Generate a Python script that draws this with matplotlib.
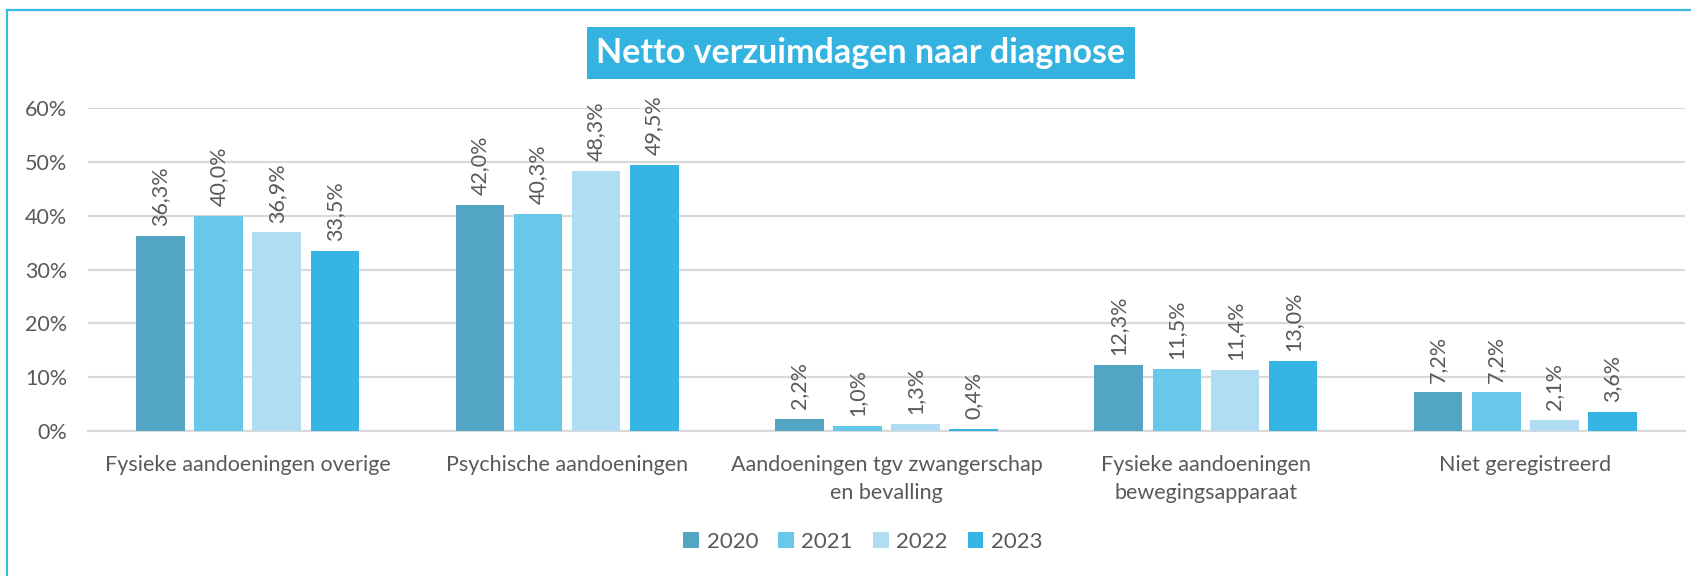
import matplotlib
matplotlib.use("Agg")
import matplotlib.pyplot as plt
from matplotlib.lines import Line2D
from matplotlib.patches import Patch
import numpy as np

plt.rcParams['font.family'] = ['Lato', 'DejaVu Sans']

categories = ["Fysieke aandoeningen overige", "Psychische aandoeningen",
              "Aandoeningen tgv zwangerschap\nen bevalling",
              "Fysieke aandoeningen\nbewegingsapparaat", "Niet geregistreerd"]
years = ["2020", "2021", "2022", "2023"]
v2020 = [36.3, 42.0, 2.2, 12.3, 7.2]
v2021 = [40.0, 40.3, 1.0, 11.5, 7.2]
v2022 = [36.9, 48.3, 1.3, 11.4, 2.1]
v2023 = [33.5, 49.5, 0.4, 13.0, 3.6]
series = [v2020, v2021, v2022, v2023]
colors = ["#53A5C4", "#67C8EA", "#B0DDF1", "#34B5E3"]

W, H = 1691, 576
fig = plt.figure(figsize=(W / 100, H / 100), dpi=100)
ax = fig.add_axes([88 / W, 1 - 431 / H, (1685 - 88) / W, (431 - 108) / H])

x = np.arange(len(categories))
bw = 0.152
step = 0.182
txt = "#595959"
fs = 15.5
for i, (vals, c) in enumerate(zip(series, colors)):
    xs = x + (i - 1.5) * step
    ax.bar(xs, vals, width=bw, color=c, zorder=3)
    for xi, v in zip(xs, vals):
        ax.annotate(f"{v:.1f}%".replace(".", ","), (xi, v), xytext=(0, 7),
                    textcoords="offset points", rotation=90, ha="center",
                    va="bottom", fontsize=fs, color=txt, annotation_clip=False)

ax.set_xlim(-0.5, len(categories) - 0.5)
ax.set_ylim(0, 60)
ax.set_yticks(np.arange(0, 61, 10))
ax.set_yticklabels([f"{t}%" for t in range(0, 61, 10)])
ax.set_xticks(x)
ax.set_xticklabels(categories, linespacing=1.55)
ax.grid(axis="y", color="#D9D9D9", linewidth=1.6, zorder=0)
for s in ["top", "right", "left"]:
    ax.spines[s].set_visible(False)
ax.spines["bottom"].set_color("#D9D9D9")
ax.spines["bottom"].set_linewidth(1.6)
ax.tick_params(axis="both", length=0, labelsize=fs, labelcolor=txt)
ax.tick_params(axis="x", pad=17)
ax.tick_params(axis="y", pad=15)

fig.text(861 / W, 1 - 53 / H, "Netto verzuimdagen naar diagnose", ha="center",
         va="center", fontsize=24.5, fontweight="bold", color="white",
         bbox=dict(boxstyle="square,pad=0.28", facecolor="#35B3E0", edgecolor="none"))

handles = [Patch(facecolor=c, edgecolor="none") for c in colors]
fig.legend(handles, years, loc="center", bbox_to_anchor=(863 / W, 1 - 542 / H),
           ncol=4, frameon=False, fontsize=16, labelcolor=txt,
           handlelength=0.7, handleheight=0.7, handletextpad=0.35, columnspacing=0.9)

bc = "#3BB9E5"
fig.add_artist(Line2D([7 / W, 7 / W], [0, 1 - 10 / H], transform=fig.transFigure,
                      color=bc, linewidth=1.6))
fig.add_artist(Line2D([7 / W, 1], [1 - 10 / H, 1 - 10 / H], transform=fig.transFigure,
                      color=bc, linewidth=1.6))

fig.savefig("out.png", dpi=100, facecolor="white")
